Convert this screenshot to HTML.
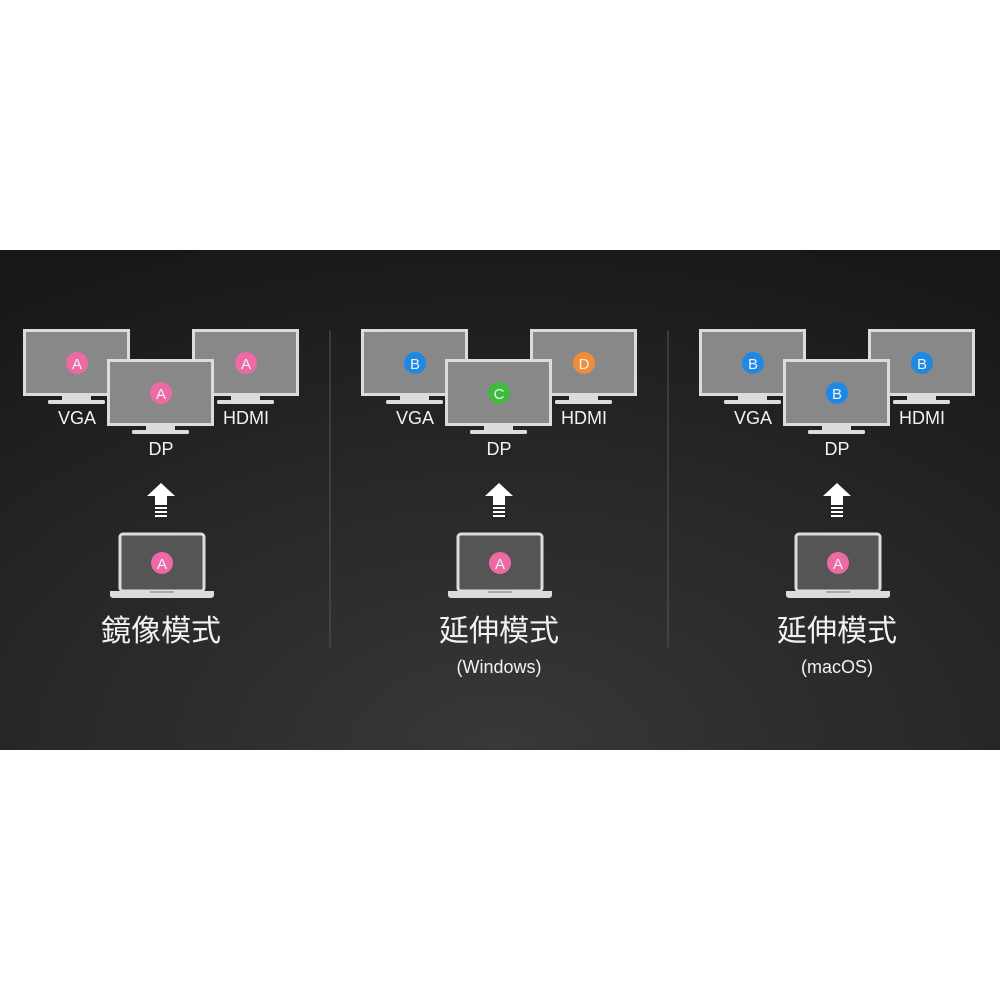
<!DOCTYPE html>
<html><head><meta charset="utf-8"><style>
html,body{margin:0;padding:0;background:#fff;width:1000px;height:1000px;overflow:hidden}
svg{display:block}
text{font-family:"Liberation Sans","Noto Sans CJK TC",sans-serif;fill:#f2f2f2}
</style></head><body>
<svg width="1000" height="1000" viewBox="0 0 1000 1000" xmlns="http://www.w3.org/2000/svg">
<defs>
<radialGradient id="bg" cx="0.5" cy="1" r="0.9" gradientTransform="translate(0.5 1) scale(1 1.2) translate(-0.5 -1)">
<stop offset="0" stop-color="#383838"/><stop offset="1" stop-color="#181818"/>
</radialGradient>
<g id="mon">
<rect x="1.5" y="1.5" width="104" height="64" fill="#888" stroke="#dcdcdc" stroke-width="3"/>
<rect x="39" y="67" width="29" height="4" fill="#dcdcdc"/>
<rect x="25" y="71" width="57" height="4" rx="1.5" fill="#dcdcdc"/>
</g>
<g id="lap">
<rect x="120" y="534" width="84" height="57" rx="3" fill="#555" stroke="#dcdcdc" stroke-width="3"/>
<path d="M110 591 H214 V595 Q214 598 210 598 H114 Q110 598 110 595 Z" fill="#dcdcdc"/>
<rect x="150" y="591" width="24" height="2" fill="#aaa"/>
<path d="M161 483 L175 496 H167 V505 H155 V496 H147 Z" fill="#fff"/>
<rect x="155" y="507" width="12" height="2" fill="#fff"/>
<rect x="155" y="511" width="12" height="2" fill="#fff"/>
<rect x="155" y="515" width="12" height="2" fill="#fff"/>
<circle cx="162" cy="563" r="11" fill="#ee6aa7"/>
<text x="162" y="569" font-size="15" text-anchor="middle">A</text>
</g>
</defs>
<rect x="0" y="250" width="1000" height="500" fill="url(#bg)"/>
<line x1="330" y1="330" x2="330" y2="648" stroke="#555" stroke-width="1"/>
<line x1="668" y1="330" x2="668" y2="648" stroke="#555" stroke-width="1"/>

<!-- group 1 -->
<g>
<use href="#mon" x="23" y="329"/>
<use href="#mon" x="192" y="329"/>
<use href="#mon" x="107" y="359"/>
<circle cx="77" cy="363" r="11" fill="#ee6aa7"/><text x="77" y="369" font-size="15" text-anchor="middle">A</text>
<circle cx="246" cy="363" r="11" fill="#ee6aa7"/><text x="246" y="369" font-size="15" text-anchor="middle">A</text>
<circle cx="161" cy="393" r="11" fill="#ee6aa7"/><text x="161" y="399" font-size="15" text-anchor="middle">A</text>
<text x="77" y="424" font-size="18" text-anchor="middle">VGA</text>
<text x="246" y="424" font-size="18" text-anchor="middle">HDMI</text>
<text x="161" y="455" font-size="18" text-anchor="middle">DP</text>
<use href="#lap"/>
<text x="161" y="641" font-size="30" text-anchor="middle">鏡像模式</text>
</g>

<!-- group 2 -->
<g transform="translate(338 0)">
<use href="#mon" x="23" y="329"/>
<use href="#mon" x="192" y="329"/>
<use href="#mon" x="107" y="359"/>
<circle cx="77" cy="363" r="11" fill="#1e88e5"/><text x="77" y="369" font-size="15" text-anchor="middle">B</text>
<circle cx="246" cy="363" r="11" fill="#f08c3a"/><text x="246" y="369" font-size="15" text-anchor="middle">D</text>
<circle cx="161" cy="393" r="11" fill="#3dbb3d"/><text x="161" y="399" font-size="15" text-anchor="middle">C</text>
<text x="77" y="424" font-size="18" text-anchor="middle">VGA</text>
<text x="246" y="424" font-size="18" text-anchor="middle">HDMI</text>
<text x="161" y="455" font-size="18" text-anchor="middle">DP</text>
<use href="#lap"/>
<text x="161" y="641" font-size="30" text-anchor="middle">延伸模式</text>
<text x="161" y="673" font-size="18" text-anchor="middle">(Windows)</text>
</g>

<!-- group 3 -->
<g transform="translate(676 0)">
<use href="#mon" x="23" y="329"/>
<use href="#mon" x="192" y="329"/>
<use href="#mon" x="107" y="359"/>
<circle cx="77" cy="363" r="11" fill="#1e88e5"/><text x="77" y="369" font-size="15" text-anchor="middle">B</text>
<circle cx="246" cy="363" r="11" fill="#1e88e5"/><text x="246" y="369" font-size="15" text-anchor="middle">B</text>
<circle cx="161" cy="393" r="11" fill="#1e88e5"/><text x="161" y="399" font-size="15" text-anchor="middle">B</text>
<text x="77" y="424" font-size="18" text-anchor="middle">VGA</text>
<text x="246" y="424" font-size="18" text-anchor="middle">HDMI</text>
<text x="161" y="455" font-size="18" text-anchor="middle">DP</text>
<use href="#lap"/>
<text x="161" y="641" font-size="30" text-anchor="middle">延伸模式</text>
<text x="161" y="673" font-size="18" text-anchor="middle">(macOS)</text>
</g>
</svg>
</body></html>
